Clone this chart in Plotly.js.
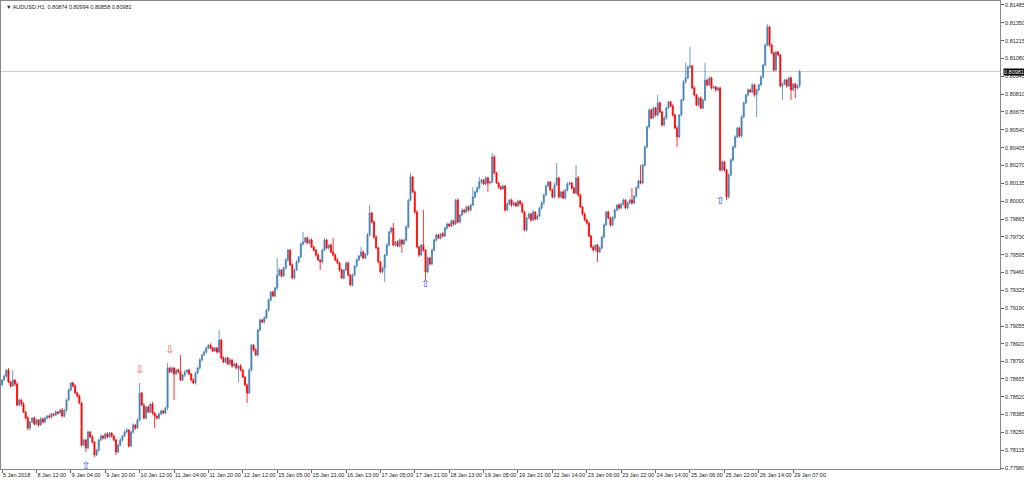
<!DOCTYPE html>
<html><head><meta charset="utf-8">
<script src="https://cdn.plot.ly/plotly-3.0.1.min.js"></script>
<style>html,body{margin:0;padding:0;background:#fff;}#chart{width:1024px;height:480px;}</style>
</head><body><div id="chart"></div>
<script>
// AUDUSD H1, bars 0..371 (5 Jan 2018 20:00 .. 29 Jan 10:00)
const opens = [
0.78610,0.78646,0.78677,0.78722,0.78631,0.78601,0.78646,0.78616,0.78457,0.78495,0.78465,0.78404,0.78359,0.78283,0.78328,0.78359,0.78313,0.78344,0.78306,0.78351,
0.78328,0.78359,0.78374,0.78366,0.78389,0.78381,0.78404,0.78397,0.78419,0.78374,0.78419,0.78495,0.78571,0.78624,0.78601,0.78548,0.78525,0.78472,0.78154,0.78192,
0.78132,0.78253,0.78215,0.78177,0.78079,0.78116,0.78192,0.78222,0.78207,0.78238,0.78215,0.78245,0.78222,0.78192,0.78101,0.78154,0.78192,0.78222,0.78253,0.78268,
0.78147,0.78253,0.78306,0.78283,0.78344,0.78548,0.78457,0.78359,0.78442,0.78404,0.78465,0.78397,0.78374,0.78359,0.78389,0.78412,0.78397,0.78434,0.78737,0.78707,
0.78737,0.78692,0.78722,0.78707,0.78646,0.78684,0.78707,0.78722,0.78692,0.78646,0.78624,0.78699,0.78737,0.78798,0.78836,0.78858,0.78889,0.78911,0.78889,0.78866,
0.78889,0.78858,0.78949,0.78813,0.78783,0.78813,0.78768,0.78798,0.78752,0.78768,0.78737,0.78752,0.78722,0.78669,0.78609,0.78548,0.78722,0.78911,0.78873,0.78836,
0.79025,0.79101,0.79085,0.79116,0.79176,0.79252,0.79313,0.79282,0.79343,0.79441,0.79479,0.79434,0.79494,0.79555,0.79630,0.79517,0.79419,0.79479,0.79540,0.79578,
0.79676,0.79691,0.79721,0.79683,0.79706,0.79653,0.79630,0.79593,0.79555,0.79540,0.79630,0.79706,0.79646,0.79668,0.79615,0.79593,0.79555,0.79532,0.79479,0.79419,
0.79479,0.79532,0.79441,0.79366,0.79441,0.79509,0.79555,0.79585,0.79615,0.79570,0.79600,0.79744,0.79911,0.79842,0.79729,0.79646,0.79540,0.79464,0.79494,0.79593,
0.79668,0.79767,0.79797,0.79668,0.79691,0.79661,0.79706,0.79676,0.79706,0.79805,0.80009,0.80183,0.80070,0.79918,0.79653,0.79593,0.79668,0.79630,0.79464,0.79570,
0.79525,0.79630,0.79706,0.79744,0.79721,0.79752,0.79736,0.79797,0.79827,0.79812,0.79850,0.79827,0.80009,0.79842,0.79895,0.79933,0.79918,0.79956,0.79933,0.79971,
0.80032,0.80070,0.80100,0.80145,0.80160,0.80130,0.80176,0.80138,0.80145,0.80335,0.80213,0.80138,0.80107,0.80092,0.80115,0.79933,0.79979,0.80009,0.79971,0.79986,
0.79964,0.80001,0.79979,0.79918,0.79782,0.79873,0.79903,0.79858,0.79918,0.79865,0.79888,0.79948,0.79986,0.80047,0.80115,0.80145,0.80085,0.80032,0.80123,0.80176,
0.80032,0.80070,0.80024,0.80085,0.80130,0.80138,0.80100,0.80062,0.80176,0.80047,0.79956,0.79903,0.79858,0.79835,0.79736,0.79653,0.79630,0.79668,0.79615,0.79646,
0.79729,0.79820,0.79918,0.79873,0.79820,0.79873,0.79933,0.79971,0.79948,0.79979,0.80009,0.79948,0.79986,0.80009,0.79986,0.80039,0.80100,0.80153,0.80138,0.80274,
0.80410,0.80562,0.80690,0.80630,0.80705,0.80652,0.80743,0.80675,0.80577,0.80630,0.80705,0.80751,0.80721,0.80652,0.80554,0.80486,0.80652,0.80766,0.80902,0.80933,
0.81016,0.81023,0.80857,0.80804,0.80728,0.80781,0.80705,0.80766,0.80917,0.80880,0.80933,0.80857,0.80864,0.80842,0.80857,0.80236,0.80297,0.80236,0.80032,0.80198,
0.80312,0.80410,0.80486,0.80554,0.80493,0.80637,0.80743,0.80804,0.80842,0.80827,0.80880,0.80804,0.80842,0.80880,0.80940,0.81031,0.81182,0.81319,0.81182,0.81122,
0.80993,0.81129,0.81107,0.80872,0.80887,0.80917,0.80872,0.80933,0.80842,0.80887,0.80857,0.80874];
const closes = [
0.78646,0.78677,0.78722,0.78631,0.78601,0.78646,0.78616,0.78457,0.78495,0.78465,0.78404,0.78359,0.78283,0.78328,0.78359,0.78313,0.78344,0.78306,0.78351,0.78328,
0.78359,0.78374,0.78366,0.78389,0.78381,0.78404,0.78397,0.78419,0.78374,0.78419,0.78495,0.78571,0.78624,0.78601,0.78548,0.78525,0.78472,0.78154,0.78192,0.78132,
0.78253,0.78215,0.78177,0.78079,0.78116,0.78192,0.78222,0.78207,0.78238,0.78215,0.78245,0.78222,0.78192,0.78101,0.78154,0.78192,0.78222,0.78253,0.78268,0.78147,
0.78253,0.78306,0.78283,0.78344,0.78548,0.78457,0.78359,0.78442,0.78404,0.78465,0.78397,0.78374,0.78359,0.78389,0.78412,0.78397,0.78434,0.78737,0.78707,0.78737,
0.78692,0.78722,0.78707,0.78646,0.78684,0.78707,0.78722,0.78692,0.78646,0.78624,0.78699,0.78737,0.78798,0.78836,0.78858,0.78889,0.78911,0.78889,0.78866,0.78889,
0.78858,0.78949,0.78813,0.78783,0.78813,0.78768,0.78798,0.78752,0.78768,0.78737,0.78752,0.78722,0.78669,0.78609,0.78548,0.78722,0.78911,0.78873,0.78836,0.79025,
0.79101,0.79085,0.79116,0.79176,0.79252,0.79313,0.79282,0.79343,0.79441,0.79479,0.79434,0.79494,0.79555,0.79630,0.79517,0.79419,0.79479,0.79540,0.79578,0.79676,
0.79691,0.79721,0.79683,0.79706,0.79653,0.79630,0.79593,0.79555,0.79540,0.79630,0.79706,0.79646,0.79668,0.79615,0.79593,0.79555,0.79532,0.79479,0.79419,0.79479,
0.79532,0.79441,0.79366,0.79441,0.79509,0.79555,0.79585,0.79615,0.79570,0.79600,0.79744,0.79911,0.79842,0.79729,0.79646,0.79540,0.79464,0.79494,0.79593,0.79668,
0.79767,0.79797,0.79668,0.79691,0.79661,0.79706,0.79676,0.79706,0.79805,0.80009,0.80183,0.80070,0.79918,0.79653,0.79593,0.79668,0.79630,0.79464,0.79570,0.79525,
0.79630,0.79706,0.79744,0.79721,0.79752,0.79736,0.79797,0.79827,0.79812,0.79850,0.79827,0.80009,0.79842,0.79895,0.79933,0.79918,0.79956,0.79933,0.79971,0.80032,
0.80070,0.80100,0.80145,0.80160,0.80130,0.80176,0.80138,0.80145,0.80335,0.80213,0.80138,0.80107,0.80092,0.80115,0.79933,0.79979,0.80009,0.79971,0.79986,0.79964,
0.80001,0.79979,0.79918,0.79782,0.79873,0.79903,0.79858,0.79918,0.79865,0.79888,0.79948,0.79986,0.80047,0.80115,0.80145,0.80085,0.80032,0.80123,0.80176,0.80032,
0.80070,0.80024,0.80085,0.80130,0.80138,0.80100,0.80062,0.80176,0.80047,0.79956,0.79903,0.79858,0.79835,0.79736,0.79653,0.79630,0.79668,0.79615,0.79646,0.79729,
0.79820,0.79918,0.79873,0.79820,0.79873,0.79933,0.79971,0.79948,0.79979,0.80009,0.79948,0.79986,0.80009,0.79986,0.80039,0.80100,0.80153,0.80138,0.80274,0.80410,
0.80562,0.80690,0.80630,0.80705,0.80652,0.80743,0.80675,0.80577,0.80630,0.80705,0.80751,0.80721,0.80652,0.80554,0.80486,0.80652,0.80766,0.80902,0.80933,0.81016,
0.81023,0.80857,0.80804,0.80728,0.80781,0.80705,0.80766,0.80917,0.80880,0.80933,0.80857,0.80864,0.80842,0.80857,0.80236,0.80297,0.80236,0.80032,0.80198,0.80312,
0.80410,0.80486,0.80554,0.80493,0.80637,0.80743,0.80804,0.80842,0.80827,0.80880,0.80804,0.80842,0.80880,0.80940,0.81031,0.81182,0.81319,0.81182,0.81122,0.80993,
0.81129,0.81107,0.80872,0.80887,0.80917,0.80872,0.80933,0.80842,0.80887,0.80857,0.80874,0.80981];
// upper / lower wick lengths beyond the body, in points (0.00001)
const wickHi = [
8,12,6,15,9,76,7,14,10,6,13,8,17,9,5,12,10,7,15,11,
10,7,13,9,6,14,8,11,16,7,9,12,6,10,15,8,13,7,11,9,
12,8,15,6,10,9,13,7,11,14,8,6,12,10,9,15,7,13,15,8,
9,13,7,11,76,10,14,8,12,6,15,9,7,13,10,8,11,38,9,14,
7,10,12,129,8,13,6,11,9,15,10,7,14,8,12,9,6,13,10,11,
8,76,9,13,7,11,15,6,10,12,8,14,9,7,11,13,10,6,15,9,
11,7,14,9,12,6,10,8,129,13,7,11,15,9,6,12,10,14,8,11,
76,9,12,7,14,10,8,13,6,11,15,9,7,12,106,10,13,8,11,6,
10,13,8,11,6,14,9,38,12,7,15,60,9,11,13,8,10,12,7,14,
9,11,38,8,13,10,7,12,14,6,30,9,11,13,8,10,265,7,12,9,
13,8,10,12,7,15,9,11,6,14,10,8,12,9,13,7,11,10,8,75,
10,12,38,9,7,13,11,8,30,14,9,6,12,10,8,13,7,11,15,9,
11,8,13,10,7,12,9,14,6,11,10,13,8,12,9,7,11,14,113,10,
9,12,7,13,10,8,11,98,14,9,6,12,10,13,8,11,7,9,12,10,
12,9,11,8,14,10,7,13,9,11,6,12,10,91,8,13,11,121,9,12,
10,13,8,11,9,61,12,7,14,10,8,11,13,9,12,7,10,15,113,11,
144,10,12,8,11,13,9,129,7,12,10,14,8,11,9,13,10,7,12,11,
9,12,10,8,13,11,7,14,10,12,9,11,8,13,10,12,22,9,11,8,
12,10,9,13,8,11,10,12,9,11,10,13];
const wickLo = [
10,6,13,8,12,7,15,9,11,14,6,10,15,16,7,12,9,13,6,11,
9,12,7,14,10,8,13,6,11,9,15,7,12,10,8,13,9,11,7,31,
12,8,10,15,9,13,7,11,14,8,10,12,9,22,7,11,13,8,10,12,
8,11,13,9,12,7,10,14,8,11,13,91,9,12,10,7,11,13,8,10,
197,9,12,8,11,14,7,10,13,9,12,8,11,10,7,13,9,12,10,8,
11,9,13,8,12,10,7,14,9,11,106,12,8,10,76,9,13,11,7,12,
10,8,12,9,13,11,7,10,14,8,12,9,11,13,7,10,12,8,11,9,
13,10,8,12,9,11,14,7,61,10,12,8,13,9,11,10,7,12,9,13,
8,12,10,13,7,11,9,12,10,8,14,9,11,13,7,10,12,8,106,11,
10,13,9,11,8,12,68,10,13,9,11,8,12,10,14,9,11,61,10,12,
9,11,13,8,12,10,7,13,9,11,14,8,10,12,9,13,7,11,10,8,
12,9,11,13,8,10,68,12,9,11,7,13,10,8,12,9,11,14,10,8,
11,13,9,10,12,8,14,9,11,10,7,12,13,9,11,8,10,12,9,13,
10,8,12,11,9,13,7,10,12,9,11,8,13,10,9,12,11,75,8,10,
12,10,9,13,8,11,10,12,9,14,8,11,10,13,9,12,7,11,10,13,
9,12,10,8,13,11,9,12,10,14,8,11,13,9,76,10,12,8,11,9,
11,9,13,10,12,8,11,9,13,10,12,8,14,10,9,11,13,23,10,12,
10,12,9,11,13,8,10,12,9,11,13,167,10,9,12,11,8,13,10,12,
9,11,12,106,10,13,9,76,11,76,10,16];
const timeLabels = ["5 Jan 2018","8 Jan 12:00","9 Jan 04:00","9 Jan 20:00","10 Jan 12:00","11 Jan 04:00","11 Jan 20:00","12 Jan 12:00","15 Jan 05:00","15 Jan 21:00","16 Jan 13:00","17 Jan 05:00","17 Jan 21:00","18 Jan 13:00","19 Jan 05:00","19 Jan 21:00","22 Jan 14:00","23 Jan 06:00","23 Jan 22:00","24 Jan 14:00","25 Jan 06:00","25 Jan 22:00","26 Jan 14:00","29 Jan 07:00"];
const priceTicks = ["0.81485","0.81350","0.81215","0.81080","0.80945","0.80810","0.80675","0.80540","0.80405","0.80270","0.80135","0.80000","0.79865","0.79730","0.79595","0.79460","0.79325","0.79190","0.79055","0.78920","0.78790","0.78655","0.78520","0.78385","0.78250","0.78115","0.77980"];
const lastPrice = 0.80981;
const buyBars = [39,197,334];
const buyPrices = [0.77995,0.79366,0.79994];
const sellBars = [64,78];
const sellPrices = [0.78722,0.78873];
const symbolTitle = "\u25BC AUDUSD,H1  0.80874 0.80994 0.80858 0.80981";

const idx = closes.map((_, i) => i);
const highs = closes.map((c, i) => +(Math.max(c, opens[i]) + wickHi[i] / 1e5).toFixed(5));
const lows = closes.map((c, i) => +(Math.min(c, opens[i]) - wickLo[i] / 1e5).toFixed(5));
const BARS_PER_LABEL = 16;
const FONT = 'Liberation Sans, Arial, sans-serif';

const traces = [
  {type:'candlestick', x: idx, open: opens, high: highs, low: lows, close: closes,
   increasing:{line:{color:'#4682b4', width:0.8}, fillcolor:'#4682b4'},
   decreasing:{line:{color:'#ff0000', width:0.8}, fillcolor:'#ff0000'},
   whiskerwidth:0, hoverinfo:'skip', showlegend:false},
  {type:'scatter', mode:'text', x: buyBars, y: buyPrices, text: buyBars.map(() => '\u21E7'),
   textfont:{color:'#2a40ff', size:10, family:'DejaVu Sans'}, hoverinfo:'skip', showlegend:false},
  {type:'scatter', mode:'text', x: sellBars, y: sellPrices, text: sellBars.map(() => '\u21E9'),
   textfont:{color:'#f05030', size:10, family:'DejaVu Sans'}, hoverinfo:'skip', showlegend:false}
];

const layout = {
  width:1024, height:480,
  margin:{l:1, r:24, t:1, b:11, pad:0},
  paper_bgcolor:'#ffffff', plot_bgcolor:'#ffffff',
  showlegend:false,
  font:{family:FONT, size:5, color:'#222'},
  xaxis:{type:'linear', range:[-0.47, 464.2], rangeslider:{visible:false},
    tickvals: timeLabels.map((_, k) => k * BARS_PER_LABEL), ticktext: timeLabels,
    tickangle:0, automargin:false,
    ticks:'outside', ticklen:3, tickcolor:'#666', tickwidth:1,
    ticklabelposition:'outside right',
    tickfont:{size:5.5, family:FONT, color:'#222'},
    showline:true, linecolor:'#888', linewidth:1, mirror:true,
    showgrid:false, zeroline:false, fixedrange:true},
  yaxis:{side:'right', range:[0.77973, 0.81515], automargin:false,
    tickvals: priceTicks.map(Number), ticktext: priceTicks,
    ticks:'outside', ticklen:3, tickcolor:'#666', tickwidth:1,
    tickfont:{size:5.5, family:FONT, color:'#222'},
    showline:true, linecolor:'#888', linewidth:1, mirror:true,
    showgrid:false, zeroline:false, fixedrange:true},
  shapes:[{type:'line', xref:'paper', x0:0, x1:1, yref:'y', y0:lastPrice, y1:lastPrice,
    line:{color:'#cccccc', width:1}, layer:'below'}],
  annotations:[
    {xref:'paper', yref:'y', x:1, y:lastPrice, xanchor:'left', yanchor:'middle', xshift:3,
     text: lastPrice.toFixed(5), showarrow:false, bgcolor:'#000000', borderpad:0,
     font:{size:5.5, color:'#ffffff', family:FONT}},
    {xref:'paper', yref:'paper', x:0, y:1, xanchor:'left', yanchor:'top', xshift:3, yshift:-1,
     text: symbolTitle, showarrow:false, font:{size:5.5, color:'#222', family:FONT}}
  ]
};
Plotly.newPlot('chart', traces, layout, {staticPlot:true, displayModeBar:false});
</script>
</body></html>
